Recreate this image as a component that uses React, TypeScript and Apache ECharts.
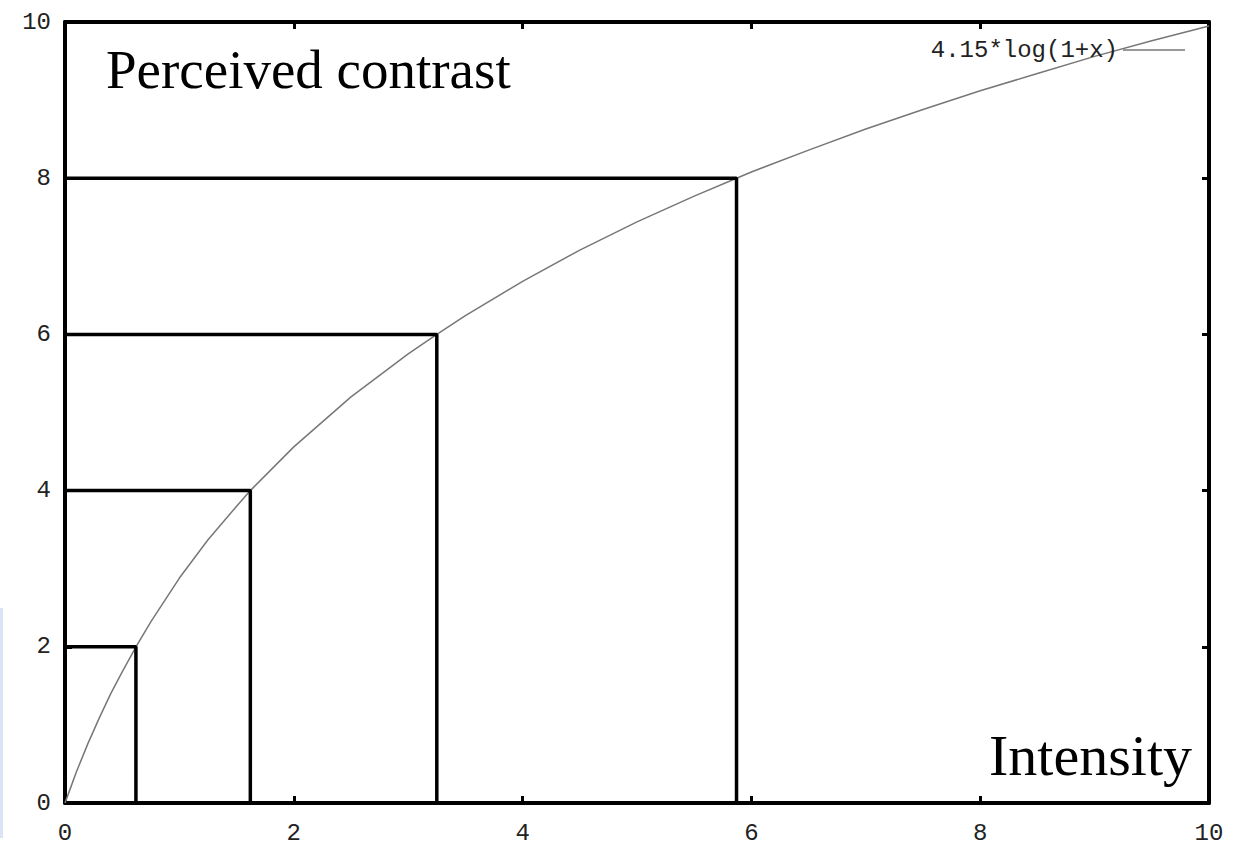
import React, { useEffect, useRef } from "react";
import * as echarts from "echarts";

// Curve 4.15*log(1+x), values
const curveX = [0, 0.05, 0.1, 0.2, 0.3, 0.4, 0.5, 0.62, 0.75, 1, 1.25, 1.5, 1.62, 2, 2.5, 3, 3.25, 3.5, 4, 4.5, 5, 5.5, 5.87, 6, 6.5, 7, 7.5, 8, 8.5, 9, 9.5, 10];
const curveY = [0, 0.2, 0.4, 0.76, 1.09, 1.4, 1.68, 2.0, 2.32, 2.88, 3.37, 3.8, 4.0, 4.56, 5.2, 5.75, 6.0, 6.24, 6.68, 7.08, 7.44, 7.77, 8.0, 8.08, 8.36, 8.63, 8.88, 9.12, 9.34, 9.56, 9.76, 9.95];

// Step rectangles (intensity, perceived contrast)
const stepX = [0.62, 1.62, 3.25, 5.87];
const stepY = [2, 4, 6, 8];

const tickValues = [0, 2, 4, 6, 8, 10];
const curveName = "4.15*log(1+x)";

const MONO = "'Liberation Mono', 'DejaVu Sans Mono', monospace";
const SERIF = "'Liberation Serif', 'DejaVu Serif', serif";

export default function App() {
  const ref = useRef<HTMLDivElement>(null);
  useEffect(() => {
    if (!ref.current) return;
    const chart = echarts.init(ref.current, undefined, { renderer: "svg" });

    const axisCommon = {
      type: "value" as const,
      min: tickValues[0],
      max: tickValues[tickValues.length - 1],
      interval: 2,
      axisLine: { show: true, onZero: false, lineStyle: { color: "#000", width: 4 } },
      axisTick: { show: true, inside: true, length: 7, lineStyle: { color: "#000", width: 3 } },
      splitLine: { show: false },
    };

    const stepSeries = stepX.map((sx, i) => ({
      type: "line" as const,
      name: "step" + i,
      data: [
        [0, stepY[i]],
        [sx, stepY[i]],
        [sx, 0],
      ],
      symbol: "none",
      lineStyle: { color: "#000", width: 3.5 },
      z: 3,
    }));

    chart.setOption({
      animation: false,
      backgroundColor: "#fff",
      grid: { left: 65, right: 28, top: 22, bottom: 44, containLabel: false },
      xAxis: [
        {
          ...axisCommon,
          position: "bottom",
          axisLabel: { show: true, margin: 18, fontFamily: MONO, fontSize: 24, color: "#222" },
        },
        { ...axisCommon, position: "top", axisLabel: { show: false } },
      ],
      yAxis: [
        {
          ...axisCommon,
          position: "left",
          axisLabel: { show: true, margin: 14, fontFamily: MONO, fontSize: 24, color: "#222" },
        },
        { ...axisCommon, position: "right", axisLabel: { show: false } },
      ],
      legend: {
        data: [curveName],
        right: 47,
        top: 33,
        align: "right",
        icon: "rect",
        itemWidth: 62,
        itemHeight: 1.5,
        itemGap: 8,
        textStyle: { fontFamily: MONO, fontSize: 24, color: "#222" },
      },
      series: [
        {
          type: "line",
          name: curveName,
          data: curveX.map((x, i) => [x, curveY[i]]),
          symbol: "none",
          smooth: false,
          itemStyle: { color: "#777" },
          lineStyle: { color: "#777", width: 1.5 },
          z: 2,
        },
        ...stepSeries,
      ],
      graphic: [
        {
          type: "text",
          left: 106,
          top: 42,
          style: { text: "Perceived contrast", font: `55px ${SERIF}`, fill: "#000" },
        },
        {
          type: "text",
          right: 45,
          top: 726,
          style: { text: "Intensity", font: `58px ${SERIF}`, fill: "#000" },
        },
        {
          type: "rect",
          left: 0,
          top: 608,
          shape: { width: 3, height: 230 },
          style: { fill: "#dbe3f7" },
        },
      ],
    });
    return () => chart.dispose();
  }, []);

  return (
    <div
      ref={ref}
      style={{ position: "fixed", left: 0, top: 0, width: 1237, height: 847, background: "#fff" }}
    />
  );
}
